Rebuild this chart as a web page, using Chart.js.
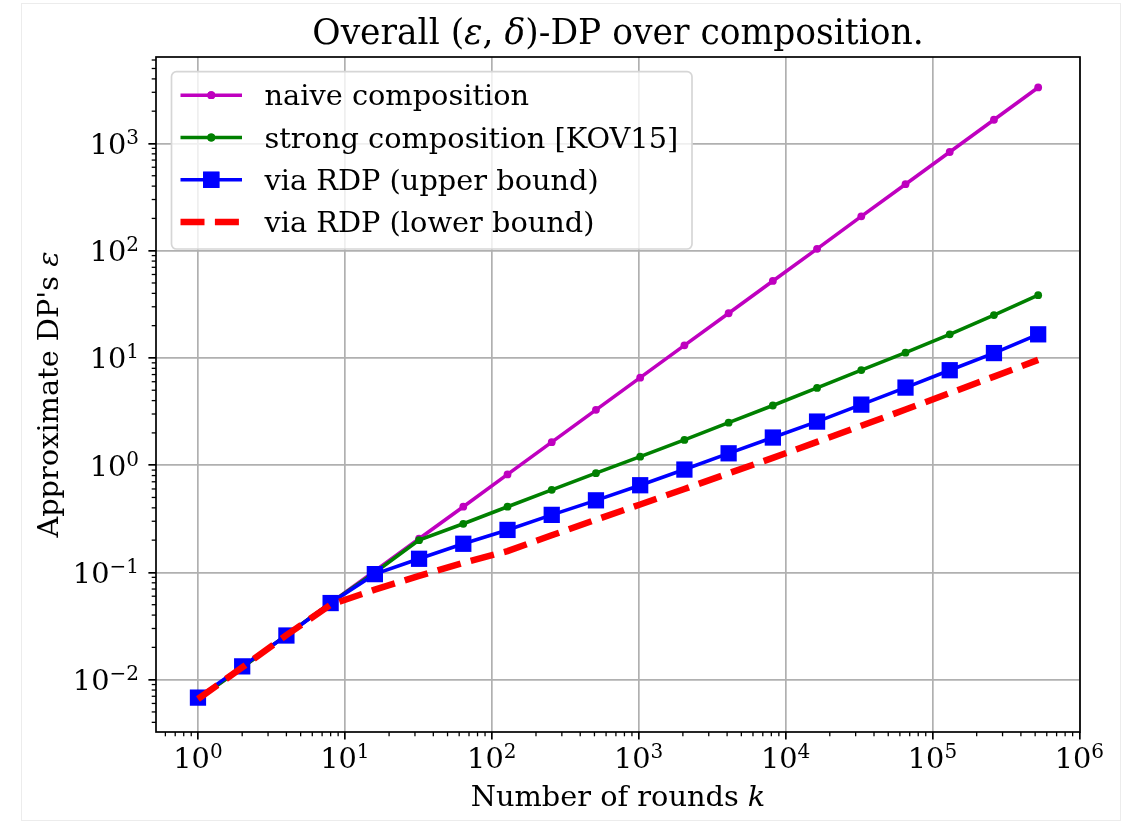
<!DOCTYPE html>
<html>
<head>
<meta charset="utf-8">
<script src="https://cdn.jsdelivr.net/npm/chart.js@4.4.1/dist/chart.umd.min.js"></script>
<style>
  html, body { margin: 0; padding: 0; background: #fff; }
  #wrap { position: relative; width: 1132px; height: 822px; }
  #frame { position: absolute; left: 21px; top: 3px; width: 1098px; height: 816px; border: 1px solid #ececec; pointer-events: none; }
  canvas { display: block; }
</style>
</head>
<body>
<div id="wrap">
  <canvas id="dpChart" width="1132" height="822"></canvas>
  <div id="frame"></div>
</div>
<script>
// number of composed rounds k (2^0 .. 2^19)
const rounds = [1, 2, 4, 8, 16, 32, 64, 128, 256, 512, 1024, 2048, 4096, 8192,
    16384, 32768, 65536, 131072, 262144, 524288];

// epsilon
const naiveEps = [0.0066, 0.013, 0.026, 0.052, 0.103, 0.206, 0.41, 0.82, 1.64, 3.28,
    6.55, 13.1, 26.1, 52.2, 104, 209, 417, 832, 1663, 3330];
const strongEps = [0.0066, 0.013, 0.026, 0.052, 0.1, 0.2, 0.284, 0.41, 0.589, 0.842,
    1.2, 1.72, 2.49, 3.6, 5.25, 7.7, 11.2, 16.6, 25.1, 38.5];
const rdpUpperEps = [0.0068, 0.0133, 0.0258, 0.0518, 0.0964, 0.134, 0.185, 0.249, 0.344, 0.47,
    0.65, 0.91, 1.29, 1.81, 2.55, 3.67, 5.29, 7.68, 11.1, 16.6];
const rdpLowerEps = [0.0066, 0.013, 0.026, 0.05, 0.069, 0.093, 0.123, 0.158, 0.222, 0.31,
    0.43, 0.6, 0.84, 1.17, 1.65, 2.33, 3.3, 4.7, 6.7, 9.6];

const seriesLabels = ['naive composition', 'strong composition [KOV15]',
    'via RDP (upper bound)', 'via RDP (lower bound)'];

// ticks are powers of ten: label = "10" + exponent
const xTickValues = [1, 10, 100, 1000, 10000, 100000, 1000000];
const xTickExponents = ['0', '1', '2', '3', '4', '5', '6'];
const yTickValues = [0.01, 0.1, 1, 10, 100, 1000];
const yTickExponents = ['\u22122', '\u22121', '0', '1', '2', '3'];

const FONT = "'DejaVu Serif', serif";
const BASE_PX = 28.8;
const EXP_PX = 20;

function toPoints(values) {
    return rounds.map((k, i) => ({ x: k, y: values[i] }));
}

// text with some italic pieces (math symbols)
function drawRich(ctx, parts, x, y, size, rotate) {
    ctx.save();
    ctx.translate(x, y);
    if (rotate) ctx.rotate(-Math.PI / 2);
    ctx.textBaseline = 'alphabetic';
    ctx.textAlign = 'left';
    ctx.fillStyle = '#000';
    let total = 0;
    parts.forEach(p => {
        ctx.font = (p[1] ? 'italic ' : '') + size + 'px ' + FONT;
        total += ctx.measureText(p[0]).width;
    });
    let cx = -total / 2;
    parts.forEach(p => {
        ctx.font = (p[1] ? 'italic ' : '') + size + 'px ' + FONT;
        ctx.fillText(p[0], cx, 0);
        cx += ctx.measureText(p[0]).width;
    });
    ctx.restore();
}

// "10^e" label; anchor: 'center' (x axis) or 'right' (y axis)
function drawPow(ctx, exp, x, baseline, anchor) {
    ctx.save();
    ctx.fillStyle = '#000';
    ctx.textBaseline = 'alphabetic';
    ctx.textAlign = 'left';
    ctx.font = BASE_PX + 'px ' + FONT;
    const wb = ctx.measureText('10').width;
    ctx.font = EXP_PX + 'px ' + FONT;
    const we = ctx.measureText(exp).width;
    const x0 = anchor === 'center' ? x - (wb + we) / 2 : x - wb - we;
    ctx.font = BASE_PX + 'px ' + FONT;
    ctx.fillText('10', x0, baseline);
    ctx.font = EXP_PX + 'px ' + FONT;
    ctx.fillText(exp, x0 + wb, baseline - 10);
    ctx.restore();
}

const decorPlugin = {
    id: 'decor',
    afterDatasetsDraw(chart) {
        const ctx = chart.ctx;
        const a = chart.chartArea;
        const sx = chart.scales.x, sy = chart.scales.y;

        // minor ticks on log axes
        ctx.save();
        ctx.strokeStyle = '#000';
        ctx.lineWidth = 1.3;
        [sx, sy].forEach(s => {
            const lo = Math.floor(Math.log10(s.min));
            const hi = Math.ceil(Math.log10(s.max));
            for (let d = lo; d <= hi; d++) {
                for (let m = 2; m <= 9; m++) {
                    const v = m * Math.pow(10, d);
                    if (v < s.min || v > s.max) continue;
                    const p = s.getPixelForValue(v);
                    ctx.beginPath();
                    if (s === sx) { ctx.moveTo(p, a.bottom); ctx.lineTo(p, a.bottom + 4.3); }
                    else { ctx.moveTo(a.left, p); ctx.lineTo(a.left - 4.3, p); }
                    ctx.stroke();
                }
            }
        });
        // axes frame
        ctx.lineWidth = 1.7;
        ctx.strokeRect(a.left, a.top, a.right - a.left, a.bottom - a.top);
        ctx.restore();

        // tick labels
        sx.ticks.forEach((t, i) => {
            drawPow(ctx, xTickExponents[i], sx.getPixelForValue(t.value), a.bottom + 36.3, 'center');
        });
        sy.ticks.forEach((t, i) => {
            drawPow(ctx, yTickExponents[i], a.left - 17, sy.getPixelForValue(t.value) + 10.5, 'right');
        });

        // legend box, upper left
        const sets = chart.data.datasets;
        const bx = a.left + 15.5, by = a.top + 14.7, bw = 520.5, bh = 177.3;
        ctx.save();
        ctx.beginPath();
        ctx.roundRect(bx, by, bw, bh, 5);
        ctx.fillStyle = 'rgba(255,255,255,0.8)';
        ctx.fill();
        ctx.strokeStyle = '#d6d6d6';
        ctx.lineWidth = 1.7;
        ctx.stroke();
        sets.forEach((ds, row) => {
            const ry = by + 23.5 + row * 42.3;
            const x0 = bx + 9, x1 = bx + 70.5;
            ctx.strokeStyle = ds.borderColor;
            ctx.lineWidth = ds.borderWidth;
            ctx.setLineDash(ds.borderDash || []);
            ctx.beginPath();
            ctx.moveTo(x0, ry);
            ctx.lineTo(x1, ry);
            ctx.stroke();
            ctx.setLineDash([]);
            if (ds.pointRadius > 0) {
                ctx.fillStyle = ds.backgroundColor;
                Chart.helpers.drawPoint(ctx, {
                    pointStyle: ds.pointStyle, radius: ds.pointRadius, rotation: 0,
                    borderWidth: 0
                }, (x0 + x1) / 2, ry);
                ctx.fill();
            }
            ctx.fillStyle = '#000';
            ctx.font = BASE_PX + 'px ' + FONT;
            ctx.textBaseline = 'alphabetic';
            ctx.fillText(ds.label, bx + 93, ry + 10);
        });
        ctx.restore();
    },
    afterDraw(chart) {
        const ctx = chart.ctx;
        const a = chart.chartArea;
        const cx = (a.left + a.right) / 2;
        drawRich(ctx, [['Overall (', false], ['ε', true], [', ', false], ['δ', true],
            [')-DP over composition.', false]], cx, 44, 34.5, false);
        drawRich(ctx, [['Number of rounds ', false], ['k', true]], cx, 806, BASE_PX, false);
        drawRich(ctx, [["Approximate DP's ", false], ['ε', true]], 57.5, (a.top + a.bottom) / 2, BASE_PX, true);
    }
};

const gridStyle = { color: '#b0b0b0', lineWidth: 1.7, drawTicks: true, tickLength: 7.6, tickColor: '#000', tickWidth: 1.7 };

new Chart(document.getElementById('dpChart'), {
    type: 'line',
    data: {
        datasets: [
            {
                label: seriesLabels[0], data: toPoints(naiveEps),
                borderColor: '#bf00bf', backgroundColor: '#bf00bf', borderWidth: 3.6,
                pointStyle: 'circle', pointRadius: 3.9, pointBorderWidth: 0, order: 3
            },
            {
                label: seriesLabels[1], data: toPoints(strongEps),
                borderColor: '#008000', backgroundColor: '#008000', borderWidth: 3.6,
                pointStyle: 'circle', pointRadius: 3.9, pointBorderWidth: 0, order: 2
            },
            {
                label: seriesLabels[2], data: toPoints(rdpUpperEps),
                borderColor: '#0000ff', backgroundColor: '#0000ff', borderWidth: 3.6,
                pointStyle: 'rect', pointRadius: 11.5, pointBorderWidth: 0, order: 1
            },
            {
                label: seriesLabels[3], data: toPoints(rdpLowerEps),
                borderColor: '#ff0000', backgroundColor: '#ff0000', borderWidth: 6.5,
                borderDash: [24, 10.4], pointRadius: 0, order: 0
            }
        ]
    },
    options: {
        responsive: false,
        animation: false,
        events: [],
        layout: { padding: { top: 57, right: 52, left: 0, bottom: 0 } },
        elements: { line: { tension: 0, borderCapStyle: 'butt' } },
        plugins: { legend: { display: false }, title: { display: false }, tooltip: { enabled: false } },
        scales: {
            x: {
                type: 'logarithmic',
                min: 0.518, max: 1.01e6,
                afterBuildTicks: s => { s.ticks = xTickValues.map(v => ({ value: v, major: true })); },
                afterFit: s => { s.height = 90; },
                border: { display: false },
                grid: gridStyle,
                ticks: { display: false, autoSkip: false }
            },
            y: {
                type: 'logarithmic',
                min: 0.00325, max: 6400,
                afterBuildTicks: s => { s.ticks = yTickValues.map(v => ({ value: v, major: true })); },
                afterFit: s => { s.width = 156; },
                border: { display: false },
                grid: gridStyle,
                ticks: { display: false, autoSkip: false }
            }
        }
    },
    plugins: [decorPlugin]
});
</script>
</body>
</html>
